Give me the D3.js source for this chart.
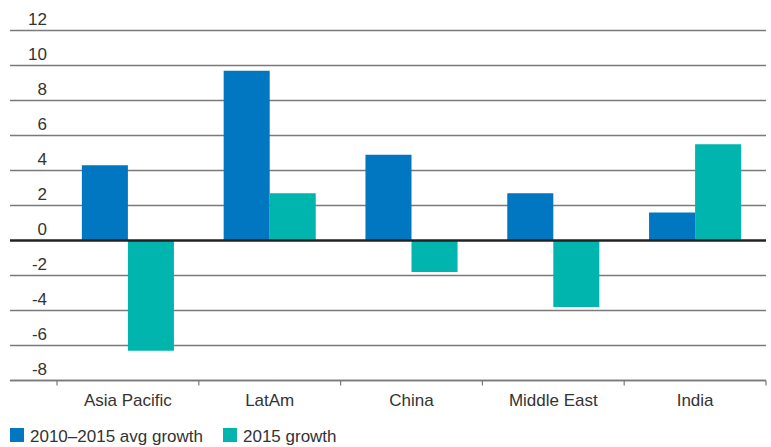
<!DOCTYPE html>
<html>
<head>
<meta charset="utf-8">
<script src="https://cdn.jsdelivr.net/npm/d3@7"></script>
<style>
  html, body { margin: 0; padding: 0; background: #fff; }
  svg { display: block; }
  text { font-family: "Liberation Sans", Arial, sans-serif; fill: #333; }
</style>
</head>
<body>
<svg id="chart" width="771" height="447"></svg>
<script>
const categories = ["Asia Pacific", "LatAm", "China", "Middle East", "India"];
const seriesNames = ["2010–2015 avg growth", "2015 growth"];
const avgGrowth = [4.3, 9.7, 4.9, 2.7, 1.6];
const growth2015 = [-6.3, 2.7, -1.8, -3.8, 5.5];
const yTicks = [12, 10, 8, 6, 4, 2, 0, -2, -4, -6, -8];
const colors = ["#0077c0", "#00b5ad"];

const svg = d3.select("#chart");
const W = 771;

const x = d3.scaleBand().domain(categories).range([57, 766]).paddingInner(0).paddingOuter(0);
const xs = d3.scaleBand().domain(seriesNames).range([0, x.bandwidth()]).paddingInner(0).paddingOuter(0.54);
const y = d3.scaleLinear().domain([-8, 12]).range([380.5, 30.5]);

// gridlines
const grid = svg.append("g");
yTicks.filter(t => t !== 0).forEach(t => {
  grid.append("line")
    .attr("x1", 10).attr("x2", 766)
    .attr("y1", y(t)).attr("y2", y(t))
    .attr("stroke", "#7a7a7a").attr("stroke-width", 1.4);
});

// tick labels
yTicks.forEach(t => {
  svg.append("text")
    .attr("x", 47).attr("y", y(t) - 6)
    .attr("text-anchor", "end")
    .attr("font-size", 17)
    .text(String(t));
});

// bars
const data = categories.map((c, i) => ({ cat: c, vals: [avgGrowth[i], growth2015[i]] }));
const groups = svg.append("g").selectAll("g").data(data).join("g")
  .attr("transform", d => `translate(${x(d.cat)},0)`);
groups.selectAll("rect")
  .data(d => d.vals.map((v, j) => ({ name: seriesNames[j], v, j })))
  .join("rect")
  .attr("x", d => xs(d.name))
  .attr("width", xs.bandwidth())
  .attr("y", d => y(Math.max(0, d.v)))
  .attr("height", d => Math.abs(y(d.v) - y(0)))
  .attr("fill", d => colors[d.j]);

// zero line
svg.append("line")
  .attr("x1", 10).attr("x2", 766)
  .attr("y1", y(0)).attr("y2", y(0))
  .attr("stroke", "#222").attr("stroke-width", 2.5);

// bottom axis
const xAxis = d3.axisBottom(x).tickSize(0).tickPadding(0);
const axG = svg.append("g").attr("transform", `translate(0,${y(-8)})`);
axG.append("line").attr("x1", 10).attr("x2", 766).attr("y1", 0).attr("y2", 0)
  .attr("stroke", "#7a7a7a").attr("stroke-width", 1.4);
const bounds = categories.map(c => x(c)).concat([x.range()[1]]);
bounds.forEach(b => {
  axG.append("line").attr("x1", b).attr("x2", b).attr("y1", 0).attr("y2", 5)
    .attr("stroke", "#7a7a7a").attr("stroke-width", 1.2);
});
categories.forEach(c => {
  axG.append("text")
    .attr("x", x(c) + x.bandwidth() / 2)
    .attr("y", 25)
    .attr("text-anchor", "middle")
    .attr("font-size", 17)
    .text(c);
});

// legend
const legend = svg.append("g");
let lx = 10;
seriesNames.forEach((n, i) => {
  legend.append("rect").attr("x", lx).attr("y", 428).attr("width", 14).attr("height", 14)
    .attr("fill", colors[i]);
  const t = legend.append("text").attr("x", lx + 20).attr("y", 441.5)
    .attr("font-size", 17).text(n);
  lx = lx + 20 + t.node().getComputedTextLength() + 20;
});
</script>
</body>
</html>
